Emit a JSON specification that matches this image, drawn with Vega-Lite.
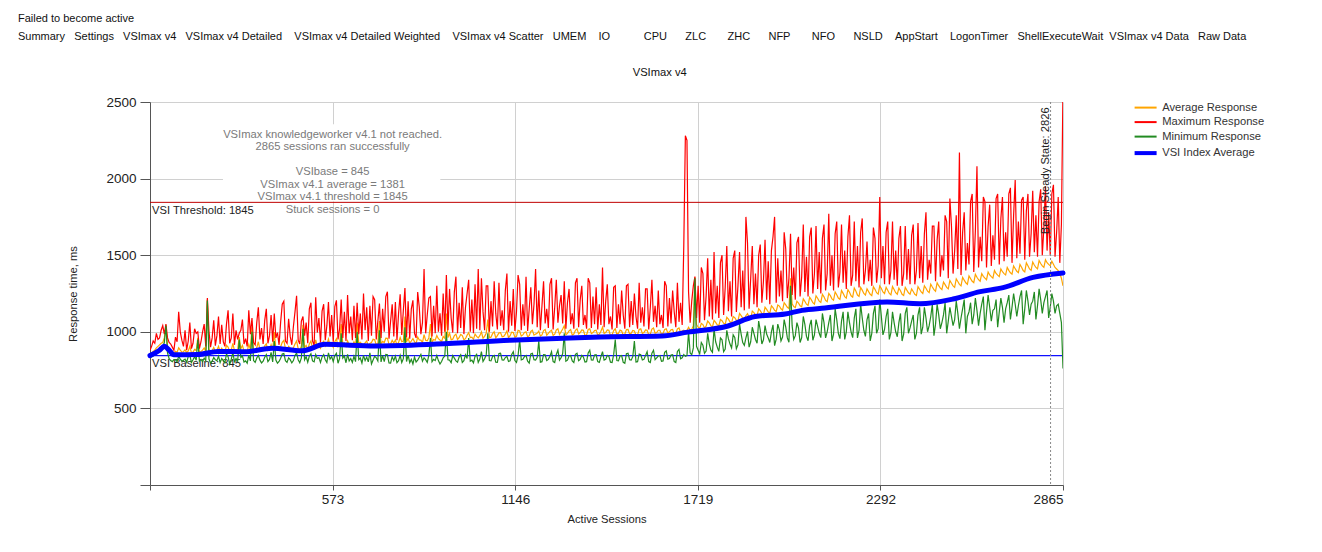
{
  "$schema": "https://vega.github.io/schema/vega-lite/v6.json",
  "background": "white",
  "padding": {"left": 17, "top": 12, "right": 5, "bottom": 5},
  "config": {
    "font": "Liberation Sans",
    "view": {"stroke": null},
    "axis": {"domainColor": "#555555", "tickColor": "#555555", "gridColor": "#d0d0d0", "labelColor": "#222222", "titleColor": "#222222", "labelFontSize": 13.5, "titleFontSize": 11.2, "titleFontWeight": "normal", "labelFont": "Liberation Sans", "titleFont": "Liberation Sans"},
    "axisX": {"tickSize": 5, "labelPadding": 2, "titlePadding": 8},
    "axisY": {"tickSize": 10, "labelPadding": 4, "titlePadding": 27},
    "legend": {"labelFont": "Liberation Sans", "labelFontSize": 11.2, "labelColor": "#333333"}
  },
  "title": {
    "text": ["Failed to become active", "Summary\u00a0\u00a0\u00a0Settings\u00a0\u00a0\u00a0VSImax v4\u00a0\u00a0\u00a0VSImax v4 Detailed\u00a0\u00a0\u00a0\u00a0VSImax v4 Detailed Weighted\u00a0\u00a0\u00a0\u00a0VSImax v4 Scatter\u00a0\u00a0\u00a0UMEM\u00a0\u00a0\u00a0\u00a0IO\u00a0\u00a0\u00a0\u00a0\u00a0\u00a0\u00a0\u00a0\u00a0\u00a0\u00a0CPU\u00a0\u00a0\u00a0\u00a0\u00a0\u00a0ZLC\u00a0\u00a0\u00a0\u00a0\u00a0\u00a0\u00a0ZHC\u00a0\u00a0\u00a0\u00a0\u00a0\u00a0NFP\u00a0\u00a0\u00a0\u00a0\u00a0\u00a0\u00a0NFO\u00a0\u00a0\u00a0\u00a0\u00a0\u00a0NSLD\u00a0\u00a0\u00a0\u00a0AppStart\u00a0\u00a0\u00a0\u00a0LogonTimer\u00a0\u00a0\u00a0ShellExecuteWait\u00a0\u00a0VSImax v4 Data\u00a0\u00a0\u00a0Raw Data"],
    "anchor": "start", "frame": "bounds", "dx": -50, "fontSize": 11, "fontWeight": "normal", "color": "#111111", "lineHeight": 18, "offset": 25, "font": "Liberation Sans"
  },
  "datasets": {
    "keys": [
      {"k": "a", "series": "Average Response"},
      {"k": "x", "series": "Maximum Response"},
      {"k": "n", "series": "Minimum Response"}
    ],
    "vsi": [
      {"s":0,"v":845},{"s":30,"v":880},{"s":45,"v":905},{"s":60,"v":880},{"s":75,"v":850},{"s":150,"v":852},{"s":213,"v":872},{"s":298,"v":870},{"s":383,"v":892},{"s":477,"v":876},{"s":549,"v":918},{"s":706,"v":908},{"s":900,"v":920},{"s":1130,"v":945},{"s":1318,"v":960},{"s":1412,"v":966},{"s":1607,"v":973},{"s":1688,"v":998},{"s":1814,"v":1038},{"s":1899,"v":1100},{"s":1993,"v":1116},{"s":2046,"v":1140},{"s":2118,"v":1155},{"s":2313,"v":1195},{"s":2416,"v":1183},{"s":2520,"v":1214},{"s":2605,"v":1262},{"s":2677,"v":1288},{"s":2771,"v":1355},{"s":2865,"v":1384}
    ],
    "raw": [
      {"s":0,"a":850,"x":880,"n":830},{"s":5,"a":862,"x":905,"n":836},{"s":10,"a":872,"x":940,"n":842},{"s":15,"a":880,"x":925,"n":848},{"s":20,"a":895,"x":990,"n":858},{"s":25,"a":905,"x":950,"n":870},{"s":30,"a":915,"x":960,"n":880},{"s":35,"a":925,"x":1010,"n":892},{"s":40,"a":930,"x":1040,"n":905},{"s":45,"a":960,"x":985,"n":930},
      {"s":50,"a":1045,"x":1050,"n":1040},{"s":55,"a":905,"x":960,"n":862},{"s":60,"a":885,"x":930,"n":825},{"s":65,"a":868,"x":920,"n":812},{"s":70,"a":860,"x":900,"n":805},{"s":75,"a":855,"x":880,"n":818},{"s":80,"a":872,"x":965,"n":818},{"s":85,"a":866,"x":935,"n":805},{"s":90,"a":895,"x":1130,"n":840},{"s":95,"a":880,"x":1000,"n":822},
      {"s":100,"a":868,"x":945,"n":808},{"s":105,"a":870,"x":905,"n":815},{"s":110,"a":882,"x":1010,"n":822},{"s":115,"a":864,"x":880,"n":801},{"s":120,"a":875,"x":940,"n":838},{"s":125,"a":905,"x":1060,"n":846},{"s":130,"a":862,"x":890,"n":800},{"s":135,"a":868,"x":925,"n":818},{"s":140,"a":885,"x":1020,"n":838},{"s":145,"a":878,"x":990,"n":815},
      {"s":150,"a":960,"x":1000,"n":950},{"s":155,"a":866,"x":890,"n":809},{"s":160,"a":872,"x":935,"n":820},{"s":165,"a":880,"x":1000,"n":806},{"s":170,"a":895,"x":1050,"n":828},{"s":175,"a":870,"x":905,"n":812},{"s":180,"a":1210,"x":1220,"n":1205},{"s":185,"a":885,"x":1005,"n":822},{"s":190,"a":868,"x":900,"n":796},{"s":195,"a":876,"x":960,"n":808},
      {"s":200,"a":898,"x":1075,"n":832},{"s":205,"a":872,"x":910,"n":818},{"s":210,"a":880,"x":975,"n":812},{"s":215,"a":905,"x":1100,"n":842},{"s":220,"a":870,"x":920,"n":799},{"s":225,"a":893,"x":1045,"n":826},{"s":230,"a":876,"x":935,"n":812},{"s":235,"a":868,"x":905,"n":798},{"s":240,"a":912,"x":1050,"n":855},{"s":245,"a":901,"x":1140,"n":838},
      {"s":250,"a":870,"x":925,"n":790},{"s":255,"a":880,"x":960,"n":821},{"s":260,"a":925,"x":1120,"n":864},{"s":265,"a":876,"x":915,"n":805},{"s":270,"a":884,"x":1010,"n":826},{"s":275,"a":880,"x":950,"n":808},{"s":280,"a":965,"x":990,"n":950},{"s":285,"a":890,"x":1010,"n":832},{"s":290,"a":911,"x":1080,"n":842},{"s":295,"a":876,"x":920,"n":803},
      {"s":300,"a":880,"x":955,"n":810},{"s":305,"a":872,"x":905,"n":795},{"s":310,"a":918,"x":1140,"n":848},{"s":315,"a":886,"x":985,"n":810},{"s":320,"a":1030,"x":1090,"n":1000},{"s":325,"a":880,"x":930,"n":812},{"s":330,"a":876,"x":915,"n":800},{"s":335,"a":897,"x":1060,"n":829},{"s":340,"a":935,"x":1160,"n":846},{"s":345,"a":884,"x":950,"n":815},
      {"s":350,"a":889,"x":1025,"n":797},{"s":355,"a":880,"x":920,"n":808},{"s":360,"a":908,"x":1075,"n":834},{"s":365,"a":921,"x":1150,"n":851},{"s":370,"a":878,"x":925,"n":806},{"s":375,"a":885,"x":975,"n":820},{"s":380,"a":916,"x":1110,"n":866},{"s":385,"a":882,"x":935,"n":803},{"s":390,"a":998,"x":1120,"n":940},{"s":395,"a":890,"x":960,"n":815},
      {"s":400,"a":887,"x":995,"n":795},{"s":405,"a":879,"x":915,"n":806},{"s":410,"a":902,"x":1065,"n":828},{"s":415,"a":931,"x":1180,"n":855},{"s":420,"a":944,"x":1200,"n":858},{"s":425,"a":889,"x":940,"n":812},{"s":430,"a":880,"x":925,"n":800},{"s":435,"a":905,"x":1085,"n":830},{"s":440,"a":893,"x":970,"n":818},{"s":445,"a":884,"x":915,"n":797},
      {"s":450,"a":896,"x":1035,"n":812},{"s":455,"a":921,"x":1130,"n":846},{"s":460,"a":940,"x":1235,"n":862},{"s":465,"a":890,"x":945,"n":818},{"s":470,"a":883,"x":920,"n":798},{"s":475,"a":906,"x":1070,"n":829},{"s":480,"a":1045,"x":1100,"n":1020},{"s":485,"a":898,"x":975,"n":818},{"s":490,"a":911,"x":1060,"n":838},{"s":495,"a":885,"x":925,"n":801},
      {"s":500,"a":920,"x":1150,"n":842},{"s":505,"a":940,"x":1190,"n":857},{"s":510,"a":890,"x":940,"n":810},{"s":515,"a":886,"x":910,"n":804},{"s":520,"a":947,"x":1225,"n":852},{"s":525,"a":905,"x":995,"n":826},{"s":530,"a":910,"x":1090,"n":832},{"s":535,"a":893,"x":930,"n":800},{"s":540,"a":926,"x":1135,"n":836},{"s":545,"a":938,"x":1180,"n":851},
      {"s":550,"a":905,"x":945,"n":818},{"s":555,"a":915,"x":1040,"n":800},{"s":560,"a":952,"x":1195,"n":862},{"s":565,"a":912,"x":970,"n":822},{"s":570,"a":925,"x":1110,"n":838},{"s":575,"a":899,"x":935,"n":806},{"s":580,"a":936,"x":1165,"n":846},{"s":585,"a":955,"x":1205,"n":860},{"s":590,"a":904,"x":950,"n":795},{"s":595,"a":918,"x":1020,"n":826},
      {"s":600,"a":1050,"x":1210,"n":990},{"s":605,"a":920,"x":960,"n":828},{"s":610,"a":928,"x":1130,"n":842},{"s":615,"a":906,"x":940,"n":798},{"s":620,"a":941,"x":1240,"n":852},{"s":625,"a":915,"x":990,"n":810},{"s":630,"a":922,"x":1100,"n":826},{"s":635,"a":908,"x":945,"n":800},{"s":640,"a":935,"x":1170,"n":840},{"s":645,"a":912,"x":960,"n":805},
      {"s":650,"a":1060,"x":1190,"n":1000},{"s":655,"a":925,"x":985,"n":818},{"s":660,"a":931,"x":1120,"n":829},{"s":665,"a":919,"x":950,"n":796},{"s":670,"a":914,"x":1250,"n":846},{"s":675,"a":928,"x":1010,"n":812},{"s":680,"a":940,"x":1160,"n":835},{"s":685,"a":910,"x":940,"n":804},{"s":690,"a":924,"x":1170,"n":862},{"s":695,"a":930,"x":975,"n":790},
      {"s":700,"a":951,"x":1230,"n":816},{"s":705,"a":948,"x":1210,"n":840},{"s":710,"a":915,"x":950,"n":830},{"s":715,"a":925,"x":1070,"n":810},{"s":720,"a":1070,"x":1185,"n":1010},{"s":725,"a":922,"x":960,"n":803},{"s":730,"a":937,"x":1150,"n":846},{"s":735,"a":930,"x":1000,"n":805},{"s":740,"a":958,"x":1230,"n":852},{"s":745,"a":957,"x":1262,"n":850},
      {"s":750,"a":918,"x":955,"n":796},{"s":755,"a":920,"x":1070,"n":795},{"s":760,"a":944,"x":1180,"n":838},{"s":765,"a":927,"x":970,"n":812},{"s":770,"a":946,"x":1195,"n":842},{"s":775,"a":915,"x":945,"n":799},{"s":780,"a":931,"x":1120,"n":812},{"s":785,"a":962,"x":1245,"n":846},{"s":790,"a":935,"x":980,"n":800},{"s":795,"a":940,"x":1140,"n":825},
      {"s":800,"a":1100,"x":1285,"n":1030},{"s":805,"a":933,"x":965,"n":806},{"s":810,"a":958,"x":1200,"n":848},{"s":815,"a":926,"x":955,"n":798},{"s":820,"a":940,"x":1150,"n":820},{"s":825,"a":955,"x":1205,"n":790},{"s":830,"a":936,"x":990,"n":835},{"s":835,"a":921,"x":960,"n":803},{"s":840,"a":967,"x":1260,"n":815},{"s":845,"a":947,"x":1160,"n":834},
      {"s":850,"a":946,"x":985,"n":852},{"s":855,"a":930,"x":1060,"n":808},{"s":860,"a":981,"x":1410,"n":830},{"s":865,"a":944,"x":990,"n":818},{"s":870,"a":941,"x":1110,"n":800},{"s":875,"a":960,"x":1220,"n":846},{"s":880,"a":1050,"x":1230,"n":960},{"s":885,"a":932,"x":970,"n":805},{"s":890,"a":950,"x":1170,"n":820},{"s":895,"a":945,"x":990,"n":812},
      {"s":900,"a":975,"x":1300,"n":845},{"s":905,"a":955,"x":1000,"n":812},{"s":910,"a":946,"x":1120,"n":790},{"s":915,"a":935,"x":975,"n":806},{"s":920,"a":970,"x":1250,"n":830},{"s":925,"a":958,"x":1000,"n":842},{"s":930,"a":1120,"x":1370,"n":1000},{"s":935,"a":962,"x":1010,"n":817},{"s":940,"a":990,"x":1280,"n":815},{"s":945,"a":948,"x":1090,"n":798},
      {"s":950,"a":952,"x":995,"n":845},{"s":955,"a":975,"x":1260,"n":828},{"s":960,"a":985,"x":1360,"n":810},{"s":965,"a":950,"x":990,"n":802},{"s":970,"a":961,"x":1190,"n":835},{"s":975,"a":983,"x":1025,"n":850},{"s":980,"a":975,"x":1290,"n":800},{"s":985,"a":948,"x":985,"n":812},{"s":990,"a":955,"x":1160,"n":850},{"s":995,"a":978,"x":1250,"n":826},
      {"s":1000,"a":995,"x":1340,"n":960},{"s":1005,"a":962,"x":1000,"n":808},{"s":1010,"a":965,"x":1210,"n":815},{"s":1015,"a":951,"x":990,"n":797},{"s":1020,"a":985,"x":1310,"n":840},{"s":1025,"a":970,"x":1020,"n":853},{"s":1030,"a":960,"x":1410,"n":800},{"s":1035,"a":975,"x":1010,"n":822},{"s":1040,"a":1000,"x":1350,"n":870},{"s":1045,"a":958,"x":1130,"n":806},
      {"s":1050,"a":970,"x":1010,"n":825},{"s":1055,"a":990,"x":1300,"n":848},{"s":1060,"a":1080,"x":1300,"n":990},{"s":1065,"a":962,"x":1000,"n":812},{"s":1070,"a":965,"x":1200,"n":810},{"s":1075,"a":988,"x":1035,"n":839},{"s":1080,"a":1000,"x":1330,"n":845},{"s":1085,"a":960,"x":1120,"n":801},{"s":1090,"a":975,"x":1015,"n":800},{"s":1095,"a":993,"x":1320,"n":858},
      {"s":1100,"a":995,"x":1040,"n":860},{"s":1105,"a":968,"x":1140,"n":816},{"s":1110,"a":970,"x":1010,"n":815},{"s":1115,"a":985,"x":1270,"n":832},{"s":1120,"a":1005,"x":1380,"n":840},{"s":1125,"a":962,"x":1000,"n":806},{"s":1130,"a":975,"x":1200,"n":810},{"s":1135,"a":998,"x":1040,"n":852},{"s":1140,"a":995,"x":1280,"n":870},{"s":1145,"a":965,"x":1005,"n":812},
      {"s":1150,"a":970,"x":1130,"n":800},{"s":1155,"a":1010,"x":1370,"n":845},{"s":1160,"a":1005,"x":1310,"n":950},{"s":1165,"a":972,"x":1010,"n":816},{"s":1170,"a":980,"x":1180,"n":820},{"s":1175,"a":996,"x":1040,"n":838},{"s":1180,"a":1000,"x":1360,"n":845},{"s":1185,"a":967,"x":1005,"n":808},{"s":1190,"a":975,"x":1150,"n":795},{"s":1195,"a":1002,"x":1290,"n":856},
      {"s":1200,"a":1010,"x":1050,"n":860},{"s":1205,"a":978,"x":1180,"n":818},{"s":1210,"a":985,"x":1410,"n":815},{"s":1215,"a":990,"x":1030,"n":834},{"s":1220,"a":1005,"x":1270,"n":940},{"s":1225,"a":972,"x":1010,"n":802},{"s":1230,"a":980,"x":1170,"n":805},{"s":1235,"a":1008,"x":1330,"n":851},{"s":1240,"a":1015,"x":1055,"n":850},{"s":1245,"a":978,"x":1150,"n":813},
      {"s":1250,"a":990,"x":1025,"n":820},{"s":1255,"a":1003,"x":1310,"n":841},{"s":1260,"a":1010,"x":1350,"n":870},{"s":1265,"a":976,"x":1015,"n":806},{"s":1270,"a":985,"x":1160,"n":800},{"s":1275,"a":1012,"x":1340,"n":852},{"s":1280,"a":1020,"x":1060,"n":880},{"s":1285,"a":982,"x":1170,"n":815},{"s":1290,"a":1000,"x":1240,"n":830},{"s":1295,"a":1018,"x":1055,"n":858},
      {"s":1300,"a":1040,"x":1330,"n":990},{"s":1305,"a":980,"x":1020,"n":808},{"s":1310,"a":990,"x":1190,"n":815},{"s":1315,"a":1006,"x":1280,"n":842},{"s":1320,"a":1015,"x":1050,"n":845},{"s":1325,"a":979,"x":1120,"n":810},{"s":1330,"a":985,"x":1020,"n":800},{"s":1335,"a":1010,"x":1320,"n":853},{"s":1340,"a":1020,"x":1350,"n":860},{"s":1345,"a":986,"x":1030,"n":812},
      {"s":1350,"a":995,"x":1210,"n":820},{"s":1355,"a":1012,"x":1300,"n":846},{"s":1360,"a":1010,"x":1045,"n":835},{"s":1365,"a":975,"x":1110,"n":803},{"s":1370,"a":980,"x":1020,"n":805},{"s":1375,"a":1015,"x":1350,"n":862},{"s":1380,"a":1020,"x":1320,"n":880},{"s":1385,"a":988,"x":1025,"n":816},{"s":1390,"a":995,"x":1230,"n":815},{"s":1395,"a":1008,"x":1050,"n":848},
      {"s":1400,"a":1010,"x":1290,"n":850},{"s":1405,"a":978,"x":1015,"n":806},{"s":1410,"a":985,"x":1180,"n":800},{"s":1415,"a":1004,"x":1045,"n":838},{"s":1420,"a":1030,"x":1420,"n":870},{"s":1425,"a":990,"x":1030,"n":815},{"s":1430,"a":995,"x":1200,"n":820},{"s":1435,"a":1012,"x":1310,"n":846},{"s":1440,"a":1010,"x":1050,"n":840},{"s":1445,"a":975,"x":1100,"n":802},
      {"s":1450,"a":980,"x":1015,"n":800},{"s":1455,"a":1008,"x":1290,"n":851},{"s":1460,"a":1020,"x":1300,"n":950},{"s":1465,"a":984,"x":1025,"n":812},{"s":1470,"a":990,"x":1180,"n":810},{"s":1475,"a":1011,"x":1050,"n":842},{"s":1480,"a":1005,"x":1270,"n":845},{"s":1485,"a":979,"x":1110,"n":801},{"s":1490,"a":985,"x":1020,"n":795},{"s":1495,"a":1014,"x":1300,"n":857},
      {"s":1500,"a":1015,"x":1310,"n":860},{"s":1505,"a":986,"x":1030,"n":818},{"s":1510,"a":990,"x":1200,"n":815},{"s":1515,"a":1009,"x":1045,"n":838},{"s":1520,"a":1005,"x":1250,"n":940},{"s":1525,"a":976,"x":1100,"n":803},{"s":1530,"a":980,"x":1020,"n":805},{"s":1535,"a":1016,"x":1320,"n":855},{"s":1540,"a":1020,"x":1060,"n":850},{"s":1545,"a":989,"x":1160,"n":816},
      {"s":1550,"a":995,"x":1035,"n":820},{"s":1555,"a":1012,"x":1280,"n":845},{"s":1560,"a":1010,"x":1280,"n":870},{"s":1565,"a":980,"x":1015,"n":806},{"s":1570,"a":985,"x":1160,"n":800},{"s":1575,"a":1018,"x":1340,"n":861},{"s":1580,"a":1025,"x":1065,"n":880},{"s":1585,"a":991,"x":1170,"n":818},{"s":1590,"a":995,"x":1030,"n":830},{"s":1595,"a":1010,"x":1270,"n":842},
      {"s":1600,"a":1010,"x":1050,"n":845},{"s":1605,"a":983,"x":1110,"n":807},{"s":1610,"a":990,"x":1025,"n":810},{"s":1615,"a":1016,"x":1330,"n":866},{"s":1620,"a":1020,"x":1300,"n":875},{"s":1625,"a":992,"x":1035,"n":821},{"s":1630,"a":1000,"x":1220,"n":825},{"s":1635,"a":1013,"x":1055,"n":848},{"s":1640,"a":1015,"x":1270,"n":850},{"s":1645,"a":985,"x":1130,"n":806},
      {"s":1650,"a":990,"x":1030,"n":800},{"s":1655,"a":1019,"x":1320,"n":872},{"s":1660,"a":1025,"x":1065,"n":885},{"s":1665,"a":996,"x":1190,"n":824},{"s":1670,"a":1005,"x":1045,"n":830},{"s":1675,"a":1010,"x":1560,"n":852},{"s":1680,"a":1000,"x":2280,"n":840},{"s":1685,"a":1008,"x":2250,"n":845},{"s":1690,"a":1030,"x":1260,"n":1000},{"s":1695,"a":1012,"x":1060,"n":862},
      {"s":1700,"a":1015,"x":1200,"n":850},{"s":1705,"a":1040,"x":1300,"n":895},{"s":1710,"a":1355,"x":1360,"n":1350},{"s":1715,"a":1048,"x":1090,"n":905},{"s":1720,"a":1030,"x":1300,"n":880},{"s":1725,"a":1022,"x":1060,"n":856},{"s":1730,"a":1055,"x":1420,"n":930},{"s":1735,"a":1047,"x":1380,"n":912},{"s":1740,"a":1025,"x":1075,"n":860},{"s":1745,"a":1036,"x":1230,"n":874},
      {"s":1750,"a":1070,"x":1480,"n":990},{"s":1755,"a":1058,"x":1100,"n":920},{"s":1760,"a":1040,"x":1340,"n":880},{"s":1765,"a":1032,"x":1080,"n":866},{"s":1770,"a":1075,"x":1520,"n":1020},{"s":1775,"a":1061,"x":1120,"n":935},{"s":1780,"a":1045,"x":1300,"n":900},{"s":1785,"a":1040,"x":1090,"n":872},{"s":1790,"a":1080,"x":1450,"n":960},{"s":1795,"a":1072,"x":1500,"n":948},
      {"s":1800,"a":1055,"x":1110,"n":870},{"s":1805,"a":1050,"x":1290,"n":888},{"s":1810,"a":1095,"x":1560,"n":1010},{"s":1815,"a":1083,"x":1135,"n":955},{"s":1820,"a":1065,"x":1330,"n":920},{"s":1825,"a":1057,"x":1100,"n":895},{"s":1830,"a":1100,"x":1480,"n":980},{"s":1835,"a":1092,"x":1530,"n":963},{"s":1840,"a":1075,"x":1130,"n":890},{"s":1845,"a":1070,"x":1300,"n":915},
      {"s":1850,"a":1120,"x":1520,"n":1050},{"s":1855,"a":1105,"x":1160,"n":985},{"s":1860,"a":1090,"x":1400,"n":930},{"s":1865,"a":1085,"x":1140,"n":912},{"s":1870,"a":1105,"x":1750,"n":960},{"s":1875,"a":1118,"x":1580,"n":1002},{"s":1880,"a":1095,"x":1150,"n":900},{"s":1885,"a":1090,"x":1350,"n":935},{"s":1890,"a":1135,"x":1560,"n":1030},{"s":1895,"a":1125,"x":1180,"n":990},
      {"s":1900,"a":1110,"x":1380,"n":950},{"s":1905,"a":1105,"x":1160,"n":925},{"s":1910,"a":1150,"x":1500,"n":1070},{"s":1915,"a":1138,"x":1570,"n":1010},{"s":1920,"a":1120,"x":1190,"n":920},{"s":1925,"a":1112,"x":1330,"n":948},{"s":1930,"a":1160,"x":1600,"n":1040},{"s":1935,"a":1146,"x":1210,"n":985},{"s":1940,"a":1130,"x":1460,"n":960},{"s":1945,"a":1122,"x":1180,"n":930},
      {"s":1950,"a":1170,"x":1530,"n":1000},{"s":1955,"a":1158,"x":1620,"n":1045},{"s":1960,"a":1140,"x":1750,"n":910},{"s":1965,"a":1133,"x":1190,"n":952},{"s":1970,"a":1175,"x":1480,"n":1050},{"s":1975,"a":1168,"x":1230,"n":1012},{"s":1980,"a":1150,"x":1400,"n":940},{"s":1985,"a":1141,"x":1200,"n":966},{"s":1990,"a":1190,"x":1650,"n":1080},{"s":1995,"a":1176,"x":1540,"n":1030},
      {"s":2000,"a":1160,"x":1220,"n":960},{"s":2005,"a":1152,"x":1350,"n":932},{"s":2010,"a":1350,"x":1640,"n":1300},{"s":2015,"a":1182,"x":1240,"n":1040},{"s":2020,"a":1165,"x":1420,"n":950},{"s":2025,"a":1158,"x":1210,"n":975},{"s":2030,"a":1200,"x":1580,"n":1060},{"s":2035,"a":1188,"x":1620,"n":1025},{"s":2040,"a":1170,"x":1230,"n":930},{"s":2045,"a":1163,"x":1360,"n":962},
      {"s":2050,"a":1215,"x":1700,"n":1100},{"s":2055,"a":1199,"x":1260,"n":1048},{"s":2060,"a":1180,"x":1490,"n":970},{"s":2065,"a":1172,"x":1230,"n":942},{"s":2070,"a":1225,"x":1620,"n":1040},{"s":2075,"a":1210,"x":1680,"n":1078},{"s":2080,"a":1190,"x":1250,"n":945},{"s":2085,"a":1181,"x":1380,"n":980},{"s":2090,"a":1235,"x":1690,"n":1080},{"s":2095,"a":1219,"x":1280,"n":1035},
      {"s":2100,"a":1200,"x":1520,"n":990},{"s":2105,"a":1192,"x":1250,"n":962},{"s":2110,"a":1245,"x":1610,"n":1120},{"s":2115,"a":1228,"x":1700,"n":1060},{"s":2120,"a":1205,"x":1270,"n":960},{"s":2125,"a":1197,"x":1380,"n":1000},{"s":2130,"a":1250,"x":1770,"n":1060},{"s":2135,"a":1236,"x":1300,"n":1110},{"s":2140,"a":1215,"x":1500,"n":940},{"s":2145,"a":1206,"x":1270,"n":985},
      {"s":2150,"a":1260,"x":1640,"n":1150},{"s":2155,"a":1242,"x":1720,"n":1080},{"s":2160,"a":1220,"x":1290,"n":990},{"s":2165,"a":1212,"x":1390,"n":955},{"s":2170,"a":1270,"x":1700,"n":1070},{"s":2175,"a":1251,"x":1320,"n":1130},{"s":2180,"a":1230,"x":1530,"n":950},{"s":2185,"a":1220,"x":1280,"n":1000},{"s":2190,"a":1275,"x":1620,"n":1130},{"s":2195,"a":1258,"x":1760,"n":1060},
      {"s":2200,"a":1235,"x":1300,"n":1000},{"s":2205,"a":1226,"x":1370,"n":962},{"s":2210,"a":1285,"x":1720,"n":1090},{"s":2215,"a":1266,"x":1330,"n":1150},{"s":2220,"a":1240,"x":1560,"n":960},{"s":2225,"a":1231,"x":1290,"n":1010},{"s":2230,"a":1290,"x":1650,"n":1180},{"s":2235,"a":1272,"x":1740,"n":1090},{"s":2240,"a":1250,"x":1310,"n":1010},{"s":2245,"a":1240,"x":1400,"n":970},
      {"s":2250,"a":1280,"x":1590,"n":1080},{"s":2255,"a":1262,"x":1330,"n":1120},{"s":2260,"a":1245,"x":1470,"n":940},{"s":2265,"a":1236,"x":1300,"n":990},{"s":2270,"a":1295,"x":1680,"n":1120},{"s":2275,"a":1277,"x":1610,"n":1170},{"s":2280,"a":1255,"x":1320,"n":990},{"s":2285,"a":1246,"x":1430,"n":1020},{"s":2290,"a":1300,"x":1880,"n":1210},{"s":2295,"a":1283,"x":1350,"n":1100},
      {"s":2300,"a":1260,"x":1560,"n":980},{"s":2305,"a":1250,"x":1310,"n":1015},{"s":2310,"a":1290,"x":1650,"n":1100},{"s":2315,"a":1271,"x":1720,"n":1150},{"s":2320,"a":1250,"x":1310,"n":950},{"s":2325,"a":1241,"x":1400,"n":995},{"s":2330,"a":1295,"x":1720,"n":1130},{"s":2335,"a":1276,"x":1340,"n":1060},{"s":2340,"a":1255,"x":1530,"n":1000},{"s":2345,"a":1245,"x":1300,"n":968},
      {"s":2350,"a":1285,"x":1610,"n":1060},{"s":2355,"a":1268,"x":1690,"n":1120},{"s":2360,"a":1245,"x":1300,"n":940},{"s":2365,"a":1237,"x":1380,"n":985},{"s":2370,"a":1290,"x":1690,"n":1120},{"s":2375,"a":1272,"x":1340,"n":1160},{"s":2380,"a":1255,"x":1540,"n":990},{"s":2385,"a":1246,"x":1310,"n":1025},{"s":2390,"a":1280,"x":1630,"n":1070},{"s":2395,"a":1263,"x":1700,"n":1110},
      {"s":2400,"a":1245,"x":1310,"n":950},{"s":2405,"a":1237,"x":1400,"n":990},{"s":2410,"a":1295,"x":1710,"n":1110},{"s":2415,"a":1278,"x":1350,"n":1160},{"s":2420,"a":1260,"x":1560,"n":985},{"s":2425,"a":1250,"x":1320,"n":1030},{"s":2430,"a":1300,"x":1640,"n":1160},{"s":2435,"a":1284,"x":1780,"n":1090},{"s":2440,"a":1265,"x":1340,"n":1000},{"s":2445,"a":1256,"x":1470,"n":1040},
      {"s":2450,"a":1310,"x":1380,"n":1100},{"s":2455,"a":1292,"x":1690,"n":1180},{"s":2460,"a":1275,"x":1690,"n":975},{"s":2465,"a":1265,"x":1330,"n":1050},{"s":2470,"a":1320,"x":1600,"n":1180},{"s":2475,"a":1301,"x":1720,"n":1110},{"s":2480,"a":1285,"x":1360,"n":1020},{"s":2485,"a":1275,"x":1500,"n":1060},{"s":2490,"a":1325,"x":1400,"n":1110},{"s":2495,"a":1308,"x":1760,"n":1190},
      {"s":2500,"a":1290,"x":1720,"n":990},{"s":2505,"a":1281,"x":1350,"n":1070},{"s":2510,"a":1335,"x":1870,"n":1160},{"s":2515,"a":1317,"x":1690,"n":1100},{"s":2520,"a":1300,"x":1380,"n":1040},{"s":2525,"a":1290,"x":1530,"n":1080},{"s":2530,"a":1345,"x":1760,"n":1200},{"s":2535,"a":1328,"x":1410,"n":1120},{"s":2540,"a":1310,"x":2170,"n":1020},{"s":2545,"a":1300,"x":1370,"n":1090},
      {"s":2550,"a":1355,"x":1650,"n":1150},{"s":2555,"a":1337,"x":1780,"n":1210},{"s":2560,"a":1320,"x":1400,"n":990},{"s":2565,"a":1310,"x":1580,"n":1100},{"s":2570,"a":1365,"x":1440,"n":1130},{"s":2575,"a":1347,"x":1850,"n":1190},{"s":2580,"a":1330,"x":1900,"n":1050},{"s":2585,"a":1321,"x":1390,"n":1110},{"s":2590,"a":1375,"x":1660,"n":1220},{"s":2595,"a":1356,"x":2080,"n":1140},
      {"s":2600,"a":1340,"x":1420,"n":1040},{"s":2605,"a":1330,"x":1620,"n":1120},{"s":2610,"a":1380,"x":1460,"n":1180},{"s":2615,"a":1362,"x":1880,"n":1230},{"s":2620,"a":1350,"x":1850,"n":1010},{"s":2625,"a":1340,"x":1420,"n":1130},{"s":2630,"a":1390,"x":1690,"n":1240},{"s":2635,"a":1371,"x":1830,"n":1160},{"s":2640,"a":1360,"x":1430,"n":1070},{"s":2645,"a":1350,"x":1630,"n":1140},
      {"s":2650,"a":1400,"x":1470,"n":1150},{"s":2655,"a":1381,"x":1870,"n":1210},{"s":2660,"a":1370,"x":1900,"n":1030},{"s":2665,"a":1360,"x":1440,"n":1130},{"s":2670,"a":1410,"x":1740,"n":1220},{"s":2675,"a":1392,"x":1880,"n":1160},{"s":2680,"a":1380,"x":1460,"n":1060},{"s":2685,"a":1371,"x":1650,"n":1150},{"s":2690,"a":1420,"x":1490,"n":1190},{"s":2695,"a":1401,"x":1900,"n":1240},
      {"s":2700,"a":1385,"x":1940,"n":1080},{"s":2705,"a":1376,"x":1450,"n":1160},{"s":2710,"a":1430,"x":1760,"n":1250},{"s":2715,"a":1412,"x":1990,"n":1180},{"s":2720,"a":1395,"x":1480,"n":1100},{"s":2725,"a":1386,"x":1720,"n":1170},{"s":2730,"a":1440,"x":1510,"n":1230},{"s":2735,"a":1421,"x":1860,"n":1270},{"s":2740,"a":1400,"x":1880,"n":1050},{"s":2745,"a":1391,"x":1470,"n":1150},
      {"s":2750,"a":1450,"x":1790,"n":1270},{"s":2755,"a":1431,"x":1900,"n":1200},{"s":2760,"a":1410,"x":1490,"n":1110},{"s":2765,"a":1401,"x":1640,"n":1180},{"s":2770,"a":1455,"x":1920,"n":1200},{"s":2775,"a":1436,"x":1520,"n":1260},{"s":2780,"a":1420,"x":1760,"n":1080},{"s":2785,"a":1411,"x":1490,"n":1170},{"s":2790,"a":1465,"x":1850,"n":1280},{"s":2795,"a":1446,"x":1930,"n":1210},
      {"s":2800,"a":1430,"x":1500,"n":1120},{"s":2805,"a":1421,"x":1680,"n":1190},{"s":2810,"a":1470,"x":1950,"n":1230},{"s":2815,"a":1451,"x":1530,"n":1270},{"s":2820,"a":1440,"x":1780,"n":1090},{"s":2825,"a":1431,"x":1500,"n":1160},{"s":2830,"a":1460,"x":1900,"n":1250},{"s":2835,"a":1441,"x":1960,"n":1200},{"s":2840,"a":1420,"x":1490,"n":1120},{"s":2845,"a":1410,"x":1650,"n":1170},
      {"s":2850,"a":1400,"x":1880,"n":1180},{"s":2855,"a":1380,"x":1450,"n":1120},{"s":2860,"a":1350,"x":1700,"n":1060},{"s":2865,"a":1300,"x":2600,"n":760}
    ]
  },
  "vconcat": [
    {
      "width": 913,
      "height": 383,
      "title": {"text": "VSImax v4", "anchor": "middle", "frame": "bounds", "dx": 93, "fontSize": 11.2, "fontWeight": "normal", "color": "#111111", "offset": 17, "font": "Liberation Sans"},
      "layer": [
        {
          "data": {"values": [{}]},
          "mark": {"type": "rect", "fill": "white"},
          "encoding": {
            "x": {"datum": 229, "type": "quantitative", "scale": {"domain": [0, 2865], "nice": false, "zero": false}},
            "x2": {"datum": 911},
            "y": {"datum": 1850, "type": "quantitative", "scale": {"domain": [0, 2500], "nice": false}},
            "y2": {"datum": 2355}
          }
        },
        {
          "data": {"values": [{}]},
          "mark": {"type": "rule", "stroke": "#c00000", "strokeWidth": 1},
          "encoding": {"y": {"datum": 1845, "type": "quantitative"}}
        },
        {
          "data": {"values": [{}]},
          "mark": {"type": "rule", "stroke": "#1010ff", "strokeWidth": 1.2},
          "encoding": {"y": {"datum": 845, "type": "quantitative"}}
        },
        {
          "data": {"values": [{}]},
          "mark": {"type": "text", "align": "left", "baseline": "top", "dx": 2, "dy": 3, "fontSize": 11.2, "color": "#222222", "text": "VSI Threshold: 1845"},
          "encoding": {"x": {"datum": 0, "type": "quantitative"}, "y": {"datum": 1845, "type": "quantitative"}}
        },
        {
          "data": {"values": [{}]},
          "mark": {"type": "text", "align": "left", "baseline": "top", "dx": 2, "dy": 2, "fontSize": 11.2, "color": "#222222", "text": "VSI Baseline: 845"},
          "encoding": {"x": {"datum": 0, "type": "quantitative"}, "y": {"datum": 845, "type": "quantitative"}}
        },
        {
          "data": {"name": "raw"},
          "transform": [
            {"fold": ["a", "x", "n"], "as": ["k", "ms"]},
            {"lookup": "k", "from": {"data": {"name": "keys"}, "key": "k", "fields": ["series"]}}
          ],
          "mark": {"type": "line", "strokeWidth": 1.2, "clip": true},
          "encoding": {
            "x": {"field": "s", "type": "quantitative", "scale": {"domain": [0, 2865], "nice": false, "zero": false},
                  "axis": {"values": [0, 573, 1146, 1719, 2292, 2865], "format": "d", "labelExpr": "datum.value == 0 ? '' : datum.label", "title": "Active Sessions", "grid": true}},
            "y": {"field": "ms", "type": "quantitative", "scale": {"domain": [0, 2500], "nice": false},
                  "axis": {"values": [0, 500, 1000, 1500, 2000, 2500], "format": "d", "labelExpr": "datum.value == 0 ? '' : datum.label", "title": "Response time, ms", "grid": true}},
            "color": {"field": "series", "type": "nominal",
                      "scale": {"domain": ["Average Response", "Maximum Response", "Minimum Response", "VSI Index Average"], "range": ["#FFA500", "#FF0000", "#228B22", "#0000FF"]},
                      "legend": {"title": null, "orient": "right", "offset": 74, "padding": 0, "symbolType": "stroke", "symbolSize": 484, "symbolStrokeWidth": 2, "rowPadding": 2.5, "labelOffset": 11,
                                 "encode": {"symbols": {"update": {"strokeWidth": {"signal": "datum.value == 'VSI Index Average' ? 4 : 2"}}}}}}
          }
        },
        {
          "data": {"name": "vsi"},
          "mark": {"type": "line", "strokeWidth": 5, "interpolate": "monotone", "strokeCap": "round", "strokeJoin": "round"},
          "encoding": {
            "x": {"field": "s", "type": "quantitative"},
            "y": {"field": "v", "type": "quantitative"},
            "color": {"datum": "VSI Index Average", "type": "nominal"}
          }
        },
        {
          "data": {"values": [{}]},
          "mark": {"type": "text", "align": "center", "baseline": "top", "fontSize": 11.2, "lineHeight": 12.5, "color": "#7a7a7a",
                   "text": ["VSImax knowledgeworker v4.1 not reached.", "2865 sessions ran successfully"]},
          "encoding": {"x": {"datum": 573, "type": "quantitative"}, "y": {"datum": 2324, "type": "quantitative"}}
        },
        {
          "data": {"values": [{}]},
          "mark": {"type": "text", "align": "center", "baseline": "top", "fontSize": 11.2, "lineHeight": 12.5, "color": "#7a7a7a",
                   "text": ["VSIbase = 845", "VSImax v4.1 average = 1381", "VSImax v4.1 threshold = 1845", "Stuck sessions = 0"]},
          "encoding": {"x": {"datum": 573, "type": "quantitative"}, "y": {"datum": 2082, "type": "quantitative"}}
        },
        {
          "data": {"values": [{}]},
          "mark": {"type": "rule", "stroke": "#888888", "strokeWidth": 1, "strokeDash": [2, 2]},
          "encoding": {"x": {"datum": 2826, "type": "quantitative"}}
        },
        {
          "data": {"values": [{}]},
          "mark": {"type": "text", "angle": 270, "align": "right", "baseline": "bottom", "fontSize": 11.2, "color": "#222222", "text": "Begin Steady State: 2826"},
          "encoding": {"x": {"datum": 2826, "type": "quantitative"}, "y": {"datum": 2465, "type": "quantitative"}}
        }
      ]
    }
  ]
}
